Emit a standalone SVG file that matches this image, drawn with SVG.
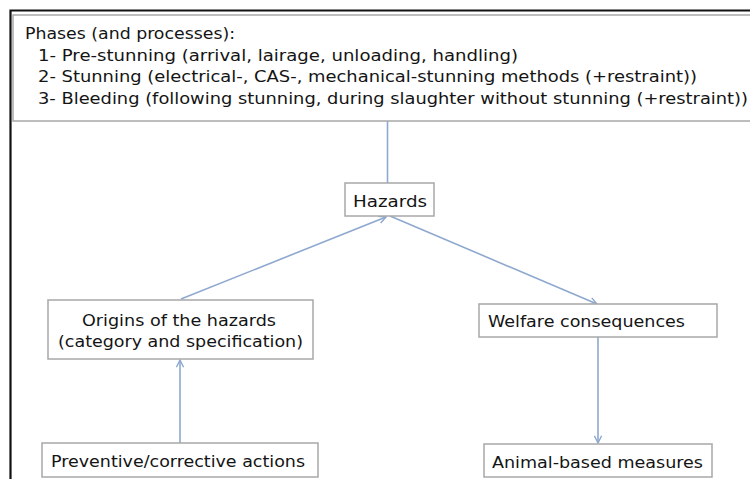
<svg xmlns="http://www.w3.org/2000/svg" width="750" height="479" viewBox="0 0 750 479">
<defs>
<style>
.box{fill:#fff;stroke:#a8a8a8;stroke-width:1.5}
.t{font-family:"DejaVu Sans","Liberation Sans",sans-serif;font-size:16px;fill:#141414}
.c{fill:none;stroke:#8ea8cf;stroke-width:1.6}
</style>
<marker id="ah" viewBox="0 0 10 10" refX="9" refY="5" markerWidth="9" markerHeight="9" markerUnits="userSpaceOnUse" orient="auto">
<path d="M1,1 L9,5 L1,9" fill="none" stroke="#8ea8cf" stroke-width="1.6"/>
</marker>
</defs>
<rect width="750" height="479" fill="#fff"/>
<path d="M10.5,479 L10.5,10.5 L750,10.5" fill="none" stroke="#111" stroke-width="2.2"/>
<g id="connectors">
<line class="c" x1="387.5" y1="121" x2="387.5" y2="183"/>
<line class="c" x1="181" y1="299" x2="386" y2="217" marker-end="url(#ah)"/>
<line class="c" x1="390" y1="216" x2="597" y2="304" marker-end="url(#ah)"/>
<line class="c" x1="598" y1="337" x2="598" y2="443" marker-end="url(#ah)"/>
<line class="c" x1="180" y1="443" x2="180" y2="360" marker-end="url(#ah)"/>
</g>
<g id="phases">
<rect class="box" x="13" y="15" width="745" height="106"/>
<text class="t" x="25" y="39" textLength="210" lengthAdjust="spacingAndGlyphs">Phases (and processes):</text>
<text class="t" x="38" y="60.5" textLength="480" lengthAdjust="spacingAndGlyphs">1- Pre-stunning (arrival, lairage, unloading, handling)</text>
<text class="t" x="38" y="82" textLength="659" lengthAdjust="spacingAndGlyphs">2- Stunning (electrical-, CAS-, mechanical-stunning methods (+restraint))</text>
<text class="t" x="38" y="103.5" textLength="710" lengthAdjust="spacingAndGlyphs">3- Bleeding (following stunning, during slaughter without stunning (+restraint))</text>
</g>
<g id="hazards">
<rect class="box" x="345" y="183" width="89" height="33"/>
<text class="t" x="353" y="207" textLength="74" lengthAdjust="spacingAndGlyphs">Hazards</text>
</g>
<g id="origins">
<rect class="box" x="48" y="300" width="265" height="59"/>
<text class="t" x="82" y="326" textLength="194" lengthAdjust="spacingAndGlyphs">Origins of the hazards</text>
<text class="t" x="58" y="347" textLength="245" lengthAdjust="spacingAndGlyphs">(category and specification)</text>
</g>
<g id="welfare">
<rect class="box" x="479" y="304" width="238" height="33"/>
<text class="t" x="488" y="327" textLength="197" lengthAdjust="spacingAndGlyphs">Welfare consequences</text>
</g>
<g id="preventive">
<rect class="box" x="42" y="443" width="276" height="34"/>
<text class="t" x="51" y="467" textLength="254" lengthAdjust="spacingAndGlyphs">Preventive/corrective actions</text>
</g>
<g id="animal">
<rect class="box" x="484" y="444" width="228" height="33"/>
<text class="t" x="492" y="468" textLength="211" lengthAdjust="spacingAndGlyphs">Animal-based measures</text>
</g>
</svg>
